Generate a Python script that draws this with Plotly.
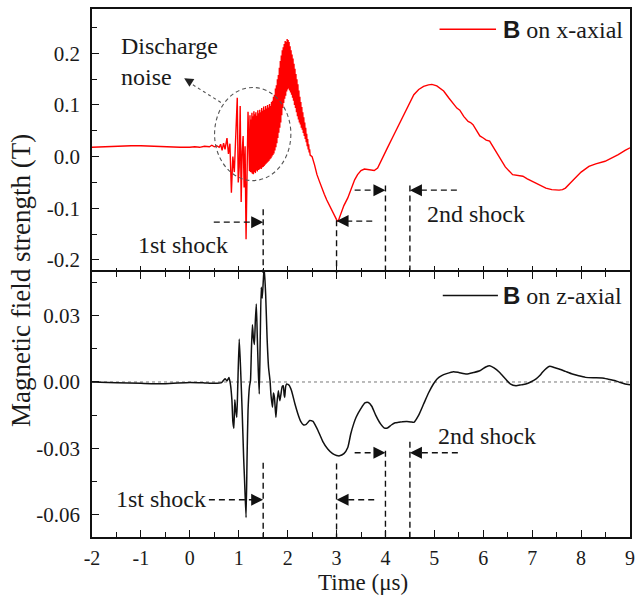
import plotly.graph_objects as go

# ---------------- data ----------------
# B on x-axial (top panel)
t_x = [-2.0, -1.8, -1.6, -1.4, -1.2, -1.0, -0.8, -0.6, -0.4, -0.2, 0.0, 0.1, 0.2, 0.3, 0.4, 0.45,
       0.5, 0.55, 0.6, 0.63, 0.66, 0.69, 0.72, 0.76, 0.79, 0.82, 0.85, 0.88, 0.91, 0.94, 0.97, 0.99,
       1.01, 1.03, 1.05, 1.07, 1.09, 1.11, 1.13, 1.15, 1.17, 1.19,
       1.22, 1.23, 1.24, 1.25, 1.26, 1.27, 1.28, 1.29, 1.30, 1.31, 1.32, 1.33, 1.34, 1.35, 1.36, 1.37,
       1.38, 1.39, 1.40, 1.41, 1.42, 1.43, 1.44, 1.45, 1.46, 1.47, 1.48, 1.49, 1.50, 1.51, 1.52, 1.53,
       1.54, 1.55, 1.56, 1.57, 1.58, 1.59, 1.60, 1.61, 1.62, 1.63, 1.64, 1.65, 1.66, 1.67, 1.68, 1.69,
       1.70, 1.71, 1.72, 1.73, 1.74, 1.75, 1.76, 1.77, 1.78, 1.79, 1.80, 1.81, 1.82, 1.83, 1.84, 1.85,
       1.86, 1.87, 1.88, 1.89, 1.90, 1.91, 1.92, 1.93, 1.94, 1.95, 1.96, 1.97, 1.98, 1.99, 2.00, 2.01,
       2.02, 2.03, 2.04, 2.05, 2.06, 2.07, 2.08, 2.09, 2.10, 2.11, 2.12, 2.13, 2.14, 2.15, 2.16, 2.17,
       2.18, 2.19, 2.20, 2.21, 2.22, 2.23, 2.24, 2.25, 2.26, 2.27, 2.28, 2.29, 2.30, 2.31, 2.32, 2.33,
       2.34, 2.35, 2.36, 2.37, 2.38, 2.39, 2.40, 2.41, 2.42, 2.43, 2.44, 2.45, 2.46,
       2.50, 2.55, 2.60, 2.65, 2.70, 2.75, 2.80, 2.85, 2.90, 2.95, 3.00, 3.03,
       3.08, 3.15, 3.23, 3.30, 3.37, 3.43, 3.50, 3.57, 3.65, 3.72, 3.77, 3.84, 3.92, 4.04, 4.15, 4.31,
       4.45, 4.58, 4.68, 4.78, 4.88, 4.95, 5.05, 5.19, 5.30, 5.40, 5.46, 5.52, 5.60, 5.69, 5.74, 5.79,
       5.86, 5.93, 6.00, 6.06, 6.13, 6.23, 6.33, 6.45, 6.60, 6.70, 6.81, 6.90, 7.01, 7.15, 7.28, 7.40,
       7.55, 7.62, 7.68, 7.78, 7.89, 8.00, 8.16, 8.30, 8.49, 8.62, 8.76, 8.90, 9.00]
b_x = [0.018, 0.019, 0.020, 0.020, 0.021, 0.021, 0.020, 0.019, 0.018, 0.018, 0.018, 0.019, 0.018, 0.020, 0.019, 0.022,
       0.019, 0.021, 0.018, 0.024, 0.012, 0.026, 0.014, 0.036, 0.005, 0.025, -0.070, 0.000, -0.030, 0.030, 0.114, -0.050,
       -0.020, 0.098, -0.088, 0.010, 0.040, -0.060, 0.020, -0.160, -0.030, 0.087,
       -0.028, 0.080, -0.030, 0.072, -0.031, 0.085, -0.033, 0.078, -0.034, 0.088, -0.030, 0.082, -0.032, 0.086, -0.027, 0.079,
       -0.029, 0.090, -0.026, 0.084, -0.025, 0.091, -0.023, 0.086, -0.024, 0.094, -0.021, 0.089, -0.020, 0.097, -0.018, 0.091,
       -0.016, 0.098, -0.014, 0.093, -0.012, 0.100, -0.010, 0.095, -0.008, 0.102, -0.005, 0.098, -0.003, 0.106, 0.000, 0.108,
       0.003, 0.116, 0.006, 0.120, 0.012, 0.132, 0.018, 0.138, 0.026, 0.150, 0.036, 0.158, 0.046, 0.172, 0.056, 0.185,
       0.066, 0.196, 0.080, 0.206, 0.094, 0.212, 0.104, 0.218, 0.112, 0.224, 0.118, 0.222, 0.126, 0.228, 0.130, 0.226,
       0.132, 0.222, 0.128, 0.214, 0.124, 0.206, 0.120, 0.198, 0.114, 0.190, 0.108, 0.180, 0.100, 0.170, 0.094, 0.160,
       0.086, 0.150, 0.078, 0.140, 0.072, 0.128, 0.066, 0.116, 0.062, 0.106, 0.056, 0.096, 0.052, 0.086, 0.046, 0.076,
       0.040, 0.066, 0.034, 0.056, 0.028, 0.044, 0.020, 0.034, 0.014, 0.024, 0.008, 0.014, 0.003,
       0.000, -0.016, -0.035, -0.048, -0.062, -0.073, -0.084, -0.094, -0.104, -0.114, -0.122, -0.126,
       -0.112, -0.095, -0.080, -0.062, -0.045, -0.035, -0.027, -0.024, -0.025, -0.026, -0.027, -0.022, -0.005, 0.017, 0.038, 0.068,
       0.095, 0.120, 0.130, 0.136, 0.139, 0.140, 0.137, 0.127, 0.113, 0.100, 0.094, 0.090, 0.078, 0.068, 0.066, 0.062,
       0.050, 0.040, 0.036, 0.032, 0.030, 0.014, -0.003, -0.020, -0.035, -0.036, -0.038, -0.043, -0.048, -0.055, -0.061, -0.064,
       -0.065, -0.064, -0.061, -0.051, -0.041, -0.030, -0.019, -0.014, -0.009, -0.003, 0.004, 0.012, 0.017]

# B on z-axial (bottom panel)
t_z = [-2.0, -1.5, -1.0, -0.5, 0.0, 0.3, 0.5, 0.65, 0.72, 0.76, 0.80, 0.83, 0.86, 0.88, 0.90, 0.92,
       0.94, 0.96, 0.98, 1.01, 1.04, 1.07, 1.10, 1.12, 1.15, 1.17, 1.19, 1.22, 1.24, 1.26, 1.28, 1.30,
       1.32, 1.34, 1.36, 1.38, 1.40, 1.42, 1.44, 1.46, 1.48, 1.50, 1.52, 1.55, 1.58, 1.61, 1.64, 1.66,
       1.69, 1.71, 1.73, 1.76, 1.78, 1.81, 1.84, 1.86, 1.89, 1.91, 1.93, 1.94, 1.96, 1.98, 2.03, 2.08,
       2.15, 2.21, 2.27, 2.32, 2.38, 2.45, 2.52, 2.57, 2.62, 2.72, 2.82, 2.92, 3.00, 3.06, 3.15, 3.23,
       3.29, 3.35, 3.40, 3.50, 3.58, 3.65, 3.72, 3.80, 3.90, 3.98, 4.04, 4.12, 4.20, 4.27, 4.35, 4.44,
       4.52, 4.58, 4.68, 4.78, 4.88, 4.98, 5.06, 5.15, 5.25, 5.39, 5.50, 5.66, 5.80, 5.93, 6.05, 6.13,
       6.22, 6.33, 6.45, 6.55, 6.67, 6.77, 6.87, 6.97, 7.08, 7.15, 7.21, 7.29, 7.36, 7.45, 7.55, 7.68,
       7.82, 7.95, 8.09, 8.25, 8.43, 8.55, 8.70, 8.80, 8.90, 9.00]
b_z = [0.0, -0.0003, -0.0006, -0.0008, -0.0002, -0.0004, -0.0006, -0.0003, 0.0015, 0.0005, 0.002, -0.001, -0.008, -0.018, -0.021, -0.008,
       -0.013, -0.016, -0.002, 0.0195, 0.005, -0.013, -0.034, -0.045, -0.0615, -0.035, -0.013, -0.002, 0.0006, 0.015, 0.026, 0.020,
       0.017, 0.028, 0.0354, 0.020, 0.005, -0.0054, 0.020, 0.043, 0.038, 0.045, 0.052, 0.040, 0.020, 0.0066, 0.0006, -0.006,
       -0.0115, -0.005, -0.007, -0.016, -0.010, -0.004, -0.0085, -0.006, -0.002, -0.0017, -0.006, -0.007, -0.002, -0.0009, -0.0015, -0.004,
       -0.010, -0.0145, -0.018, -0.0194, -0.0192, -0.0175, -0.0179, -0.0198, -0.022, -0.027, -0.0304, -0.0325, -0.0333, -0.0335, -0.0325, -0.0297,
       -0.0236, -0.019, -0.016, -0.012, -0.0095, -0.0093, -0.011, -0.015, -0.019, -0.0209, -0.0209, -0.0195, -0.0185, -0.0183, -0.018, -0.0179,
       -0.0181, -0.0183, -0.015, -0.010, -0.005, -0.0009, 0.0015, 0.0029, 0.0038, 0.0047, 0.0043, 0.0036, 0.0043, 0.0051, 0.0068, 0.0074,
       0.0064, 0.0044, 0.0015, -0.0008, -0.0017, -0.0013, -0.0009, 0.0, 0.0014, 0.0028, 0.0044, 0.0062, 0.0071, 0.0066, 0.0059, 0.0048,
       0.0036, 0.0028, 0.0021, 0.0019, 0.0018, 0.0013, 0.0006, -0.0002, -0.0009, -0.0012]

x_tickvals = [-2, -1, 0, 1, 2, 3, 4, 5, 6, 7, 8, 9]
x_ticktext = ["-2", "-1", "0", "1", "2", "3", "4", "5", "6", "7", "8", "9"]
top_tickvals = [-0.2, -0.1, 0.0, 0.1, 0.2]
top_ticktext = ["-0.2", "-0.1", "0.0", "0.1", "0.2"]
top_minor = [-0.15, -0.05, 0.05, 0.15, 0.25]
bot_tickvals = [-0.06, -0.03, 0.0, 0.03]
bot_ticktext = ["-0.06", "-0.03", "0.00", "0.03"]
bot_minor = [-0.045, -0.015, 0.015, 0.045]

# shock markers: (x, top of dashed guide) per panel
top_guides = [(1.5, -0.102), (3.0, -0.1235), (4.0, -0.056), (4.5, -0.056)]
bot_guides = [(1.5, -0.0366), (3.0, -0.037), (4.0, -0.0312), (4.5, -0.0271)]
# arrows: (start x, tip x, y)
top_arrows = [(0.49, 1.5, -0.127), (3.73, 3.0, -0.125), (3.37, 4.0, -0.065), (5.46, 4.5, -0.065)]
bot_arrows = [(0.39, 1.5, -0.0534), (3.77, 3.0, -0.0534), (3.37, 4.0, -0.0321), (5.48, 4.5, -0.0321)]

TOP_RANGE = [-0.226, 0.286]
BOT_RANGE = [-0.0703, 0.050]
SPLIT = 0.50095
HALF_LINE = 0.0014

SERIF = "Liberation Serif"
DASH = "6px,4px"
INK = "#111111"

fig = go.Figure()
fig.add_trace(go.Scatter(x=t_x, y=b_x, mode="lines", line=dict(color="#ff0000", width=1.4),
                         xaxis="x", yaxis="y", showlegend=False))
fig.add_trace(go.Scatter(x=t_z, y=b_z, mode="lines", line=dict(color=INK, width=1.5, shape="spline", smoothing=0.5),
                         xaxis="x2", yaxis="y2", showlegend=False))

shapes = []
annotations = []

# zero reference line in bottom panel
shapes.append(dict(type="line", xref="x2", yref="y2", x0=-2, x1=9, y0=0, y1=0,
                   line=dict(color="#777777", width=1, dash="3px,3px"), layer="below"))


def add_guides(guides, arrows, xr, yr, ybottom):
    for gx, gy in guides:
        shapes.append(dict(type="line", xref=xr, yref=yr, x0=gx, x1=gx, y0=gy, y1=ybottom,
                           line=dict(color=INK, width=1.4, dash=DASH)))
    for sx, tx, ay in arrows:
        sign = 1 if tx > sx else -1
        shapes.append(dict(type="line", xref=xr, yref=yr, x0=sx, x1=tx - sign * 0.2, y0=ay, y1=ay,
                           line=dict(color=INK, width=1.4, dash=DASH)))
        annotations.append(dict(x=tx, y=ay, xref=xr, yref=yr, text="", showarrow=True,
                                ax=-sign * 11, ay=0, arrowhead=2, arrowsize=1.6, arrowwidth=1.5,
                                arrowcolor=INK))


add_guides(top_guides, top_arrows, "x", "y", TOP_RANGE[0])
add_guides(bot_guides, bot_arrows, "x2", "y2", BOT_RANGE[0])

# discharge-noise circle + pointer
shapes.append(dict(type="circle", xref="x", yref="y", x0=0.506, x1=2.066, y0=-0.0465, y1=0.134,
                   line=dict(color="#555555", width=1.1, dash="4px,3px")))
shapes.append(dict(type="line", xref="x", yref="y", x0=0.634, y0=0.105, x1=-0.02, y1=0.144,
                   line=dict(color="#555555", width=1.1, dash="3px,3px")))
annotations.append(dict(x=-0.115, y=0.152, xref="x", yref="y", text="", showarrow=True,
                        ax=8, ay=5, arrowhead=2, arrowsize=1.4, arrowwidth=1.3, arrowcolor="#222222"))

txt_font = dict(family=SERIF, size=24, color="#1a1a1a")
annotations += [
    dict(x=-1.452, y=0.185, xref="x", yref="y", text="Discharge<br>noise", showarrow=False,
         xanchor="left", yanchor="middle", align="left", font=txt_font),
    dict(x=-0.13, y=-0.172, xref="x", yref="y", text="1st shock", showarrow=False, font=txt_font),
    dict(x=5.86, y=-0.112, xref="x", yref="y", text="2nd shock", showarrow=False, font=txt_font),
    dict(x=-0.59, y=-0.053, xref="x2", yref="y2", text="1st shock", showarrow=False, font=txt_font),
    dict(x=6.08, y=-0.0247, xref="x2", yref="y2", text="2nd shock", showarrow=False, font=txt_font),
]

# legend-like labels
leg = [(0.646, 0.751, 0.9616, "#ff0000", "x-axial"), (0.652, 0.7545, 0.4575, INK, "z-axial")]
for x0, x1, yy, col, lab in leg:
    shapes.append(dict(type="line", xref="paper", yref="paper", x0=x0, x1=x1, y0=yy, y1=yy,
                       line=dict(color=col, width=1.5)))
    annotations.append(dict(x=0.7606, y=yy, xref="paper", yref="paper", showarrow=False,
                            xanchor="left", yanchor="middle",
                            text="<span style='font-family:Liberation Sans'><b>B</b></span> on " + lab,
                            font=dict(family=SERIF, size=24, color="#1a1a1a")))

# axis titles
annotations.append(dict(x=-0.1308, y=0.486, xref="paper", yref="paper", showarrow=False,
                        xanchor="center", yanchor="middle",
                        text="Magnetic field strength (T)", textangle=-90,
                        font=dict(family=SERIF, size=27, color="#1a1a1a")))
annotations.append(dict(x=0.503, y=-0.087, xref="paper", yref="paper", showarrow=False,
                        text="Time (\u03bcs)", xanchor="center", yanchor="middle",
                        font=dict(family=SERIF, size=23, color="#1a1a1a")))

tick_font = dict(family=SERIF, size=21, color="#1a1a1a")
common_x = dict(range=[-2, 9], tickvals=x_tickvals, ticktext=x_ticktext, ticks="inside", ticklen=7,
                tickwidth=1.4, tickcolor=INK, showline=True, linewidth=1.5, linecolor=INK,
                showgrid=False, zeroline=False, tickfont=dict(family=SERIF, size=20, color="#1a1a1a"),
                minor=dict(dtick=0.5, tick0=-2, ticks="inside", ticklen=5, tickwidth=1.4, tickcolor=INK))
common_y = dict(ticks="inside", ticklen=7, tickwidth=1.4, tickcolor=INK, showline=True,
                linewidth=1.5, linecolor=INK, mirror=True, showgrid=False, zeroline=False,
                tickfont=tick_font, ticklabelstandoff=6)

fig.update_layout(
    width=642, height=597,
    margin=dict(l=92, r=7, t=8, b=60),
    paper_bgcolor="white", plot_bgcolor="white",
    showlegend=False,
    xaxis=dict(common_x, anchor="y", domain=[0, 1], showticklabels=False, mirror=True),
    yaxis=dict(common_y, anchor="x", domain=[SPLIT - HALF_LINE, 1], range=TOP_RANGE, tickvals=top_tickvals,
               ticktext=top_ticktext,
               minor=dict(tickvals=top_minor, ticks="inside", ticklen=5, tickwidth=1.4, tickcolor=INK)),
    xaxis2=dict(common_x, anchor="y2", domain=[0, 1], mirror="ticks", matches="x", ticklabelstandoff=2),
    yaxis2=dict(common_y, anchor="x2", domain=[0, SPLIT + HALF_LINE], range=BOT_RANGE, tickvals=bot_tickvals,
                ticktext=bot_ticktext,
                minor=dict(tickvals=bot_minor, ticks="inside", ticklen=5, tickwidth=1.4, tickcolor=INK)),
    shapes=shapes,
    annotations=annotations,
)

fig.write_html("out.html")
